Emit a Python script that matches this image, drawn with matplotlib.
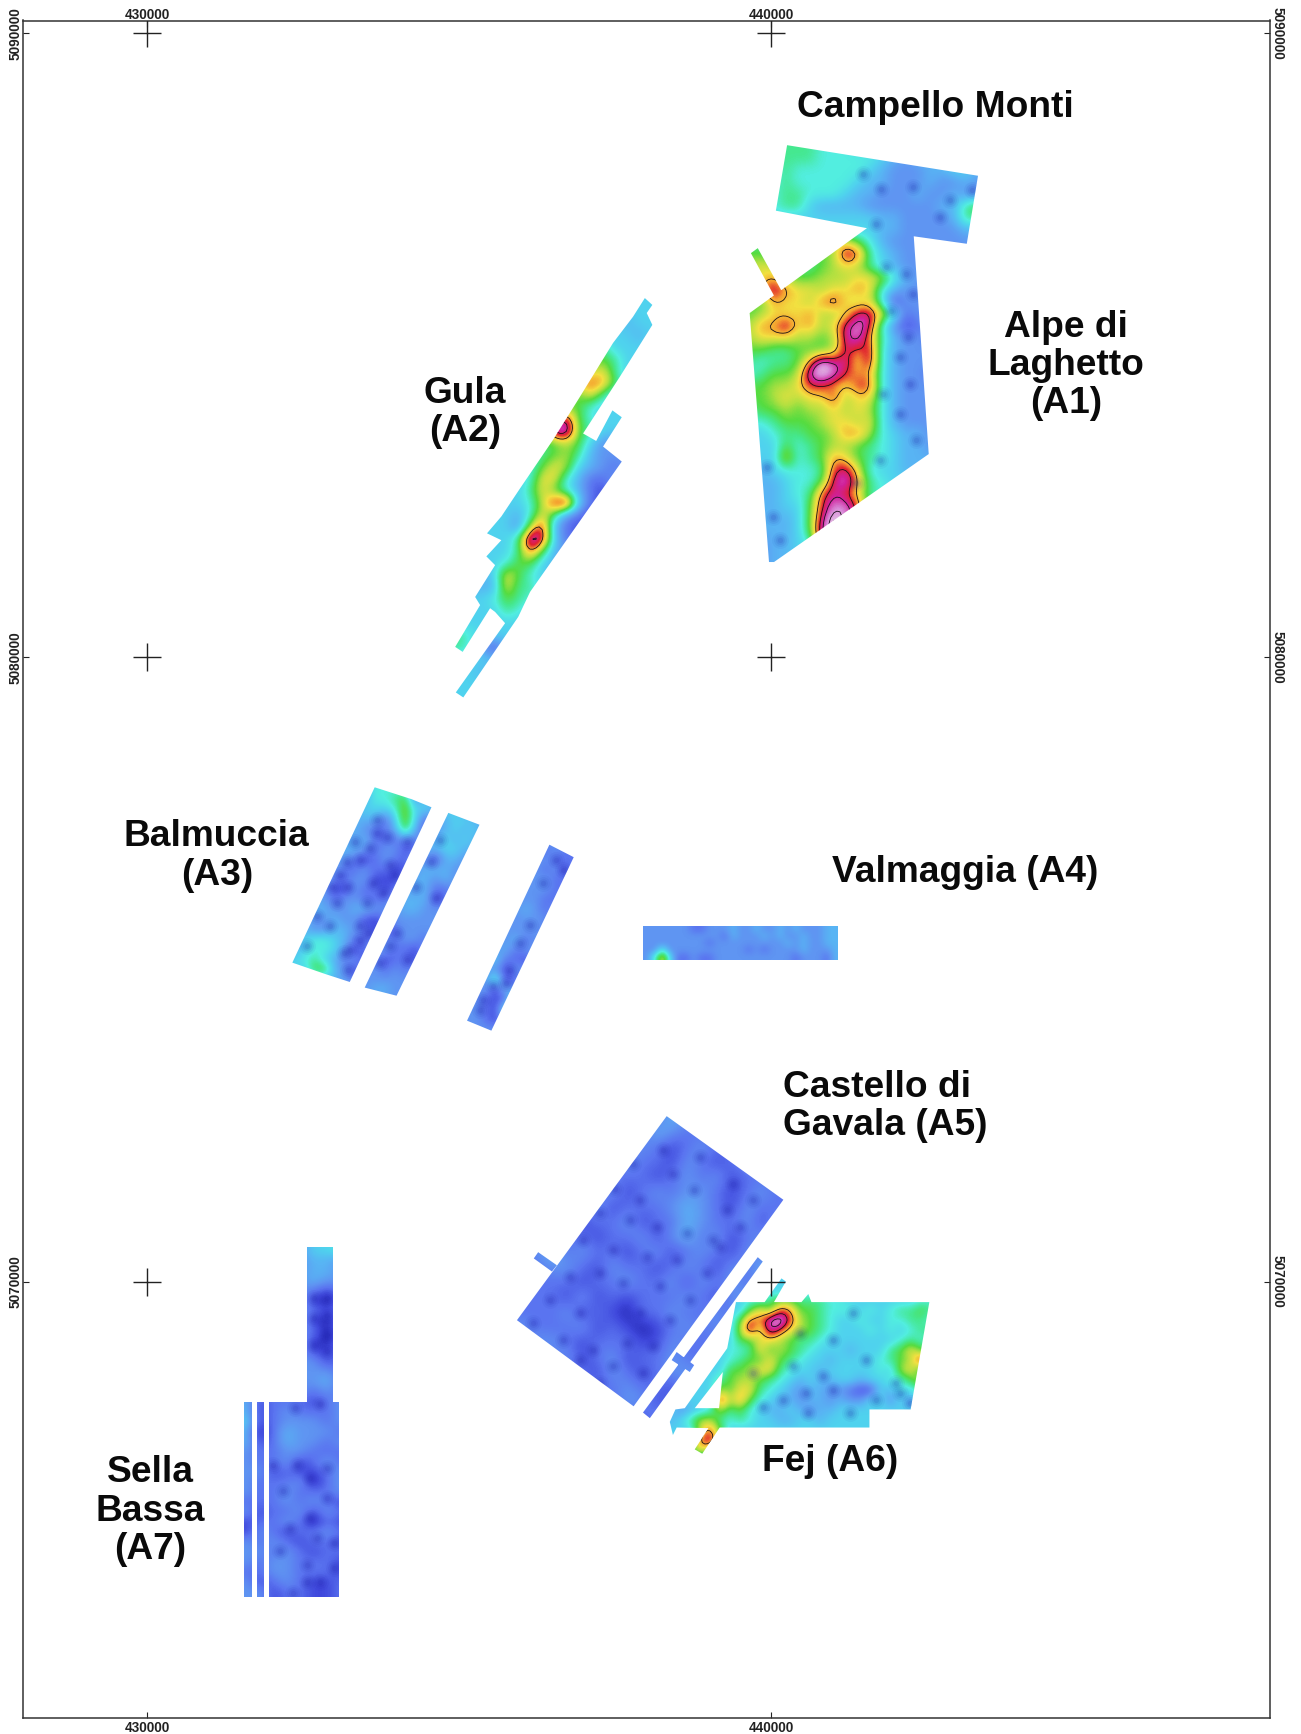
import numpy as np
import matplotlib
matplotlib.use("Agg")
import matplotlib.pyplot as plt
from matplotlib.colors import LinearSegmentedColormap
from matplotlib.patches import PathPatch
from matplotlib.path import Path

plt.rcParams["font.family"] = ["Liberation Sans", "DejaVu Sans"]

x_ticks = [430000, 440000]
y_ticks = [5070000, 5080000, 5090000]

a1_outline = [[(440.26, 5088.21), (443.32, 5087.72), (443.14, 5086.63), (442.29, 5086.75), (442.53, 5083.26),
               (440.05, 5081.53), (439.97, 5081.53), (439.66, 5085.52), (441.54, 5086.88), (440.08, 5087.16)],
              [(439.68, 5086.48), (439.79, 5086.56), (440.18, 5085.86), (440.06, 5085.78)]]
a1_extent = (439.57, 443.41, 5081.37, 5088.29)
a1_grid = [
    "77777766655544444444",
    "77777766666543444554",
    "66676666665433344554",
    "66676666654433343343",
    "66677666544333433433",
    "55677544443333334478",
    "55555555555443333477",
    "55555555555443333344",
    "77777789a86433333333",
    "88777789dc7543333333",
    "9a977789a97543333333",
    "8ab988999aa964333333",
    "9bdbaa9aaba643333333",
    "88baa9bca9a613323333",
    "89aaab99adda62333333",
    "9bbdab9aded631233333",
    "9aaa9989deb743323333",
    "88778889dbd643333233",
    "76778bfddad643333333",
    "67889efecbb643323333",
    "8899accbacc643333333",
    "889a9aac9aa643332333",
    "7889899a9a9643333333",
    "6678889aa9a643333333",
    "55677889bb9654433333",
    "55586789987654433333",
    "555a678ba87654443333",
    "4456667cda6554444444",
    "4445668deb7655544444",
    "444567cdca7655555555",
    "444558ceec7655555555",
    "344458dfec7666666666",
    "344458efd87666666666",
    "334456eda76666666666",
    "33445677666666666666",
    "33445566666666666666",
]
a1_lows_x = [441.48, 441.77, 442.28, 442.87, 443.22, 442.71, 441.69, 442.17, 442.28, 441.93, 442.20,
             442.07, 442.23, 441.80, 442.07, 442.33, 441.75, 441.37, 440.04, 439.93, 440.14, 441.85]
a1_lows_y = [5087.75, 5087.51, 5087.54, 5087.33, 5087.49, 5087.06, 5086.95, 5086.15, 5085.83, 5085.56, 5085.14,
             5084.82, 5084.39, 5084.23, 5083.91, 5083.48, 5083.16, 5082.79, 5082.25, 5083.05, 5081.88, 5086.26]

a2_outline = [[(437.98, 5085.76), (438.10, 5085.65), (438.01, 5085.52), (438.10, 5085.33), (437.58, 5084.50),
               (436.99, 5083.59), (437.20, 5083.47), (437.46, 5083.96), (437.61, 5083.85), (437.31, 5083.38),
               (437.61, 5083.14), (436.14, 5081.05), (435.95, 5080.65), (435.07, 5079.36), (434.95, 5079.44),
               (435.74, 5080.55), (435.58, 5080.73), (435.50, 5080.79), (435.06, 5080.09), (434.94, 5080.17),
               (435.34, 5080.84), (435.26, 5080.97), (435.58, 5081.48), (435.44, 5081.62), (435.68, 5081.88),
               (435.45, 5081.99), (435.68, 5082.26), (435.98, 5082.71), (436.51, 5083.49), (436.91, 5084.13),
               (437.47, 5085.04), (437.79, 5085.46)]]
a2_extent = (434.89, 438.16, 5079.11, 5085.84)
a2_grid = [
    "55555555555555555",
    "55555555555555555",
    "55555555555555455",
    "55555555555555545",
    "77777777777775555",
    "88888888888887555",
    "999999999999a7555",
    "aaaaaaaaaaacb8555",
    "99999999998a75555",
    "88888888888655555",
    "99999999bd8655555",
    "99999999ef8755555",
    "77777777898533333",
    "66666667897433333",
    "55555568a95432333",
    "5555556aa64223333",
    "5555557a864213333",
    "55555569de5213333",
    "5555546a732123333",
    "5555539d421233333",
    "555557fd522333333",
    "555557c8433333333",
    "55556885433333333",
    "4445a865444444444",
    "4444a775555555555",
    "55568765555555555",
    "55557655555555555",
    "55555555555555555",
    "76555555555555555",
    "76314555555555555",
    "55545555555555555",
    "55455555555555555",
    "55555555555555555",
    "55555555555555555",
    "55555555555555555",
]

a3_outline = [[(433.65, 5077.92), (434.24, 5077.73), (434.56, 5077.60), (433.25, 5074.80), (432.85, 5074.93), (432.33, 5075.11)],
              [(434.83, 5077.51), (435.33, 5077.32), (434.00, 5074.58), (433.49, 5074.71)],
              [(436.45, 5077.00), (436.84, 5076.80), (435.52, 5074.02), (435.13, 5074.18)]]
a3_extent = (432.29, 436.94, 5073.95, 5077.96)
a3_grid = [
    "44444444666633333333333333333",
    "44444444667835333333333333333",
    "44444445556955455333333333333",
    "44444444425952345543333333333",
    "44444443224841345453333333333",
    "44444434222324454543333333333",
    "44444443233124455442222222322",
    "44444321232233144333333333222",
    "44443223221134443333333332313",
    "44442233111344343333333333223",
    "44431132212434223333333333223",
    "44432332223444123333333332233",
    "44443344333443333333333432333",
    "44334331123333333333333333133",
    "44334432112333333333333332333",
    "45665422232332333333334233333",
    "45665312332213333333342333333",
    "56754231312213333333522133333",
    "55884313323233333333313333333",
    "44444323333333333333712233333",
    "44444443443333333333143333333",
    "44444443333333333332128333333",
    "44444443333333333332173333333",
    "44444443333333333332133333333",
    "44444443333333333333343333333",
]
a3_lows_x = [433.68, 433.68, 433.84, 434.16, 433.33, 433.57, 433.20, 433.41, 433.89, 433.09, 433.97,
             433.63, 432.96, 433.23, 433.79, 433.04, 433.52, 432.72, 433.41, 433.55, 432.93, 433.25,
             433.41, 432.56, 433.15, 433.23, 434.56, 434.64, 434.00, 434.16, 433.73, 434.32, 433.89,
             434.69, 436.14, 436.35, 436.56, 435.98, 435.82, 435.55, 435.34, 435.76, 435.39, 436.67]
a3_lows_y = [5077.40, 5077.18, 5077.13, 5077.05, 5077.05, 5076.94, 5076.73, 5076.76, 5076.68, 5076.52, 5076.52,
             5076.38, 5076.33, 5076.33, 5076.22, 5076.06, 5076.06, 5075.85, 5075.69, 5075.58, 5075.69, 5075.32,
             5075.48, 5075.37, 5075.26, 5074.99, 5076.73, 5076.14, 5075.58, 5075.15, 5075.10, 5076.33, 5075.37,
             5077.08, 5075.72, 5076.38, 5076.76, 5075.42, 5074.99, 5074.73, 5074.35, 5074.78, 5074.51, 5076.60]

a4_outline = [[(437.95, 5075.69), (441.08, 5075.69), (441.08, 5075.16), (437.95, 5075.16)]]
a4_extent = (437.95, 441.08, 5075.16, 5075.69)
a4_grid = [
    "3333332233343343343433344",
    "3333333333243334343343344",
    "3333333323333333334343344",
    "3363333333333232333343334",
    "36a5223223333333333233324",
]

a5_outline = [[(438.33, 5072.65), (440.20, 5071.31), (437.80, 5068.00), (435.93, 5069.38)],
              [(436.27, 5070.47), (436.57, 5070.26), (436.49, 5070.16), (436.20, 5070.37)],
              [(439.79, 5070.39), (439.87, 5070.32), (438.06, 5067.81), (437.95, 5067.90)],
              [(438.49, 5068.87), (438.77, 5068.66), (438.70, 5068.55), (438.41, 5068.74)]]
a5_extent = (435.90, 440.46, 5067.70, 5072.75)
a5_grid = [
    "2222222222432222222",
    "2222222224322222222",
    "2222222232123222222",
    "2222222322132123222",
    "2222222221232312222",
    "2222223123233212322",
    "2222231222343213222",
    "2222122312243223132",
    "2222212231342312323",
    "2342322123123213223",
    "2233213221232132433",
    "2222122322313232323",
    "2221312122232133232",
    "2223121022322323322",
    "3222312101232312332",
    "2332122211322233222",
    "2223123122322333222",
    "2222213212333423322",
    "2222222322133222222",
    "2222222331222222222",
    "2222222213222222222",
]
a5_lows_x = [438.27, 438.86, 439.40, 438.43, 437.79, 437.50, 437.90, 438.76, 439.29, 439.72, 437.26, 438.17, 437.74,
             438.65, 439.08, 436.99, 437.47, 438.01, 438.49, 438.97, 436.78, 437.26, 437.63, 438.22, 438.70, 436.46,
             436.94, 437.90, 438.38, 436.67, 437.15, 437.69, 438.11, 436.94, 437.47, 437.95, 437.26, 436.19, 439.18, 439.50]
a5_lows_y = [5072.11, 5072.00, 5071.57, 5071.73, 5071.89, 5071.49, 5071.31, 5071.47, 5071.15, 5071.31, 5071.09, 5070.88, 5070.99,
             5070.77, 5070.67, 5070.67, 5070.51, 5070.40, 5070.35, 5070.13, 5070.08, 5070.13, 5069.97, 5069.92, 5069.70, 5069.70,
             5069.49, 5069.49, 5069.38, 5069.06, 5068.90, 5069.01, 5068.96, 5068.74, 5068.64, 5068.53, 5068.37, 5069.33, 5070.56, 5070.88]

a6_outline = [[(439.44, 5069.67), (439.30, 5068.93), (438.62, 5067.97), (438.47, 5067.95), (438.38, 5067.75),
               (438.43, 5067.54), (438.49, 5067.66), (439.00, 5067.65), (438.78, 5067.31), (438.90, 5067.24),
               (439.18, 5067.66), (441.58, 5067.66), (441.58, 5067.95), (442.24, 5067.95), (442.54, 5069.67),
               (440.65, 5069.67), (440.60, 5069.80), (440.49, 5069.67), (440.05, 5069.67), (440.24, 5070.00),
               (440.17, 5070.05), (439.90, 5069.67)],
              [(439.23, 5068.55), (439.17, 5067.97), (438.78, 5067.97)]]
a6_extent = (438.30, 442.63, 5067.06, 5070.10)
a6_grid = [
    "555555555555555555555555555",
    "555555555555555655555555555",
    "555555556678877766555555566",
    "555555558a8cb88766656567787",
    "55555558cbefc98765565566776",
    "55555559d9eca98765556565677",
    "555555588aa9877655555556767",
    "555555667a89876555455578a87",
    "5555556788a87655455556789da",
    "555555889aa7655455555659a76",
    "555557899876545445545566896",
    "5555598aa765434433211546589",
    "55555d9b865443443433553536a",
    "534569786544543445555555555",
    "457997676554455455555555555",
    "5559c8555555555555555555555",
    "555cd9555555555555555555555",
    "558a95555555555555555555555",
    "556555555555555555555555555",
]
a6_lows_x = [440.60, 441.00, 440.57, 440.20, 439.88, 441.27, 440.46, 441.00, 441.53, 442.07, 441.69, 442.23, 442.01, 441.32, 440.84, 440.36, 439.72]
a6_lows_y = [5067.89, 5068.26, 5068.21, 5068.10, 5067.99, 5067.89, 5069.17, 5069.07, 5068.74, 5068.21, 5068.10, 5068.05, 5068.37, 5069.49, 5068.48, 5068.64, 5068.53]

a7_outline = [[(432.56, 5070.56), (432.98, 5070.56), (432.98, 5068.07), (433.07, 5068.07),
               (433.07, 5064.95), (431.96, 5064.95), (431.96, 5068.07), (432.56, 5068.07)],
              [(431.55, 5068.07), (431.68, 5068.07), (431.68, 5064.95), (431.55, 5064.95)],
              [(431.76, 5068.07), (431.88, 5068.07), (431.88, 5064.95), (431.76, 5064.95)]]
a7_extent = (431.49, 433.20, 5064.95, 5070.56)
a7_grid = [
    "33333556", "33333443", "33333443", "33333433", "33333212", "33333102", "33333212",
    "33333102", "33333202", "33333102", "33333112", "33333312", "33333332", "33333342",
    "33333232", "41222123", "41232223", "51233323", "40243332", "41243323", "32233222",
    "32231232", "33121123", "32223023", "32232223", "22232321", "31223132", "12232021",
    "13212232", "32321221", "33232122", "32332221", "22332221", "31232112", "33122112",
]
a7_lows_x = [432.67, 432.88, 432.67, 432.88, 432.67, 432.88, 432.88, 432.37, 432.77, 432.40, 432.61, 432.02,
             432.88, 432.61, 432.88, 432.99, 432.18, 432.29, 432.72, 432.13, 432.56, 432.99, 432.77, 432.34, 432.56]
a7_lows_y = [5069.74, 5069.74, 5069.41, 5069.47, 5068.99, 5069.15, 5068.88, 5067.97, 5068.03, 5067.06, 5066.85, 5067.06,
             5067.01, 5066.21, 5066.53, 5065.81, 5066.64, 5066.05, 5065.89, 5065.68, 5065.46, 5065.41, 5065.19, 5065.01, 5065.19]

labels = ["Campello Monti", "Alpe di\nLaghetto\n(A1)", "Gula\n(A2)", "Balmuccia\n(A3)", "Valmaggia (A4)",
          "Castello di\nGavala (A5)", "Fej (A6)", "Sella\nBassa\n(A7)"]
label_x = [442.64, 444.73, 435.10, 431.12, 443.12, 440.19, 440.95, 430.05]
label_y = [5088.82, 5084.68, 5083.92, 5076.82, 5076.56, 5072.80, 5067.11, 5066.32]
label_align = ["center", "center", "center", "center", "center", "left", "center", "center"]

class_colors = ["#1c1ca8", "#3f48dc", "#5a74f0", "#5f95f2", "#58b4f4", "#4fd2ee", "#52eee0", "#45e890",
                "#55dc40", "#b0e040", "#f2e040", "#f5a030", "#e02030", "#d0209a", "#d98ad8", "#ece2ec"]
field_cmap = LinearSegmentedColormap.from_list("field", class_colors)
contour_levels = [10.6, 12, 13, 14, 14.3, 14.6]


def read_grid(rows):
    width = max(len(r) for r in rows)
    return np.array([[int(c, 16) for c in r.ljust(width, r[-1])] for r in rows], dtype=float)


def outline_path(polys):
    parts = [Path(np.array(p + [p[0]]) * 1000, closed=True) for p in polys]
    return Path.make_compound_path(*parts)


def fine_lines(xs, ys, grid, factor=4):
    # only so the contour lines come out round instead of following the grid cells
    fx = np.linspace(xs[0], xs[-1], (len(xs) - 1) * factor + 1)
    fy = np.linspace(ys[-1], ys[0], (len(ys) - 1) * factor + 1)
    fine = np.array([np.interp(fx, xs, row) for row in grid])
    fine = np.array([np.interp(fy, ys[::-1], col[::-1]) for col in fine.T]).T
    box = np.ones(factor + 1) / (factor + 1)
    for _ in range(2):
        fine = np.apply_along_axis(lambda v: np.convolve(np.pad(v, factor, mode="edge"), box, "same")[factor:-factor], 0, fine)
        fine = np.apply_along_axis(lambda v: np.convolve(np.pad(v, factor, mode="edge"), box, "same")[factor:-factor], 1, fine)
    return fx, fy, fine


def draw_area(ax, rows, extent, polys, lows_x=None, lows_y=None, contours=False):
    grid = read_grid(rows)
    box = [v * 1000 for v in extent]
    clip = PathPatch(outline_path(polys), transform=ax.transData)
    im = ax.imshow(grid, extent=box, cmap=field_cmap, vmin=0, vmax=15, aspect="auto",
                   interpolation="bicubic", interpolation_stage="data", zorder=1)
    im.set_clip_path(clip)
    if lows_x is not None:
        lx = np.array(lows_x) * 1000
        ly = np.array(lows_y) * 1000
        # soft blobs, several sizes stacked so no dot has a hard edge
        for size, alpha in [(150, 0.05), (85, 0.07), (40, 0.09), (14, 0.10)]:
            blob = ax.scatter(lx, ly, s=size, color="#1c1ca8", alpha=alpha, linewidths=0, zorder=1.5)
            blob.set_clip_path(clip)
    if contours:
        ny, nx = grid.shape
        dx = (box[1] - box[0]) / nx
        dy = (box[3] - box[2]) / ny
        xs = box[0] + dx * (np.arange(nx) + 0.5)
        ys = box[3] - dy * (np.arange(ny) + 0.5)
        fx, fy, fine = fine_lines(xs, ys, grid)
        cs = ax.contour(fx, fy, fine, levels=contour_levels, colors="#1a1018", linewidths=0.6, zorder=2)
        cs.set_clip_path(clip)


fig = plt.figure(figsize=(13.01, 17.34), dpi=100)
ax = fig.add_axes([23 / 1301, 1 - 1718 / 1734, 1247 / 1301, 1697.5 / 1734])

draw_area(ax, a1_grid, a1_extent, a1_outline, a1_lows_x, a1_lows_y, contours=True)
draw_area(ax, a2_grid, a2_extent, a2_outline, contours=True)
draw_area(ax, a3_grid, a3_extent, a3_outline, a3_lows_x, a3_lows_y)
draw_area(ax, a4_grid, a4_extent, a4_outline)
draw_area(ax, a5_grid, a5_extent, a5_outline, a5_lows_x, a5_lows_y)
draw_area(ax, a6_grid, a6_extent, a6_outline, a6_lows_x, a6_lows_y, contours=True)
draw_area(ax, a7_grid, a7_extent, a7_outline, a7_lows_x, a7_lows_y)

# crosses at the grid intersections
cross_x, cross_y = np.meshgrid(x_ticks, y_ticks)
ax.plot(cross_x.ravel(), cross_y.ravel(), linestyle="none", marker="+", markersize=20,
        markeredgewidth=1.0, color="#222222", zorder=3)

for text, x, y, ha in zip(labels, label_x, label_y, label_align):
    ax.text(x * 1000, y * 1000, text, ha=ha, va="center", fontsize=26.7, fontweight="bold",
            linespacing=1.12, color="#0a0a0a", zorder=4)

ax.set_xlim(428013, 448000)
ax.set_ylim(5063005, 5090208)
ax.set_xticks(x_ticks)
ax.set_yticks(y_ticks)
ax.set_xticklabels([str(v) for v in x_ticks], fontweight="bold")
ax.set_yticklabels([str(v) for v in y_ticks], rotation=90, va="center", fontweight="bold")
ax.tick_params(axis="x", direction="in", length=4, width=0.8, labelsize=9.8, pad=2,
               top=True, colors="#222222")
ax.tick_params(axis="y", direction="in", length=4, width=0.8, labelsize=9.8, pad=0.5,
               right=True, labelright=True, colors="#222222")
for t in ax.yaxis.get_major_ticks():
    t.label2.set_rotation(270)
    t.label2.set_va("center")
    t.label2.set_fontweight("bold")
for v in x_ticks:
    ax.annotate(str(v), (v, 1), xycoords=("data", "axes fraction"), xytext=(0, 1), textcoords="offset points",
                ha="center", va="baseline", fontsize=9.8, fontweight="bold", color="#222222")
for side in ax.spines.values():
    side.set_linewidth(1.1)
    side.set_color("#333333")

fig.savefig("out.png", dpi=100)
